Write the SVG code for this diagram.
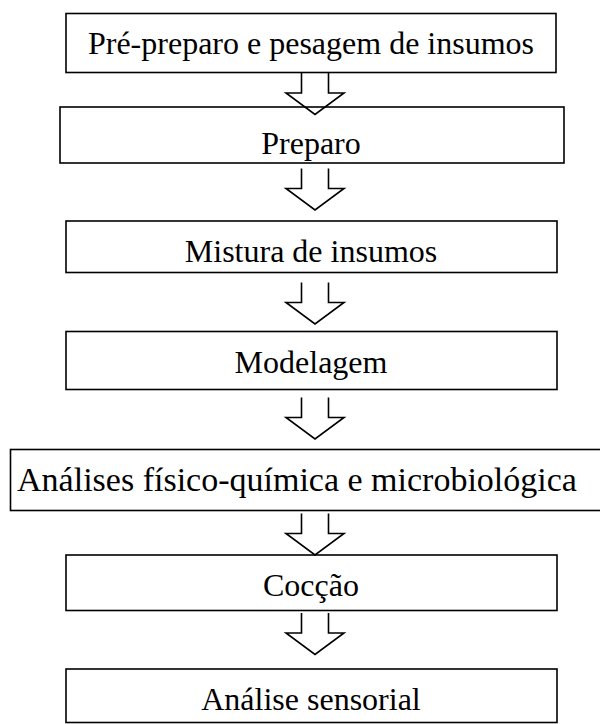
<svg xmlns="http://www.w3.org/2000/svg" width="600" height="724" viewBox="0 0 600 724">
<style>
.box{fill:none;stroke:#000;stroke-width:1.6}
.arr{fill:none;stroke:#000;stroke-width:1.6;stroke-linejoin:miter}
.t{font-family:"Liberation Serif","Times New Roman",serif;font-size:32px;fill:#000;text-anchor:middle}
</style>
<rect width="600" height="724" fill="#fff"/>
<defs>
<path id="ar" d="M-13.5,0 V20 H-29 L0,41.5 L29,20 H13.5 V0"/>
</defs>
<g id="connectors">
<use href="#ar" class="arr" transform="translate(315,73)"/>
<use href="#ar" class="arr" transform="translate(315,168.5)"/>
<use href="#ar" class="arr" transform="translate(315,282.5)"/>
<use href="#ar" class="arr" transform="translate(315,397.5)"/>
<use href="#ar" class="arr" transform="translate(315,513.5)"/>
<use href="#ar" class="arr" transform="translate(315,613)"/>
</g>
<g id="n1"><rect class="box" x="66" y="13.5" width="490" height="59"/><text class="t" x="311" y="53.5">Pré-preparo e pesagem de insumos</text></g>
<g id="n2"><rect class="box" x="60" y="107" width="504" height="56"/><text class="t" x="311" y="154">Preparo</text></g>
<g id="n3"><rect class="box" x="66" y="221" width="491" height="51.5"/><text class="t" x="311" y="261.5">Mistura de insumos</text></g>
<g id="n4"><rect class="box" x="66" y="331.5" width="491" height="58"/><text class="t" x="311" y="373">Modelagem</text></g>
<g id="n5"><rect class="box" x="10.5" y="449.5" width="600" height="61"/><text class="t" x="297" y="490.5" style="font-size:34px">Análises físico-química e microbiológica</text></g>
<g id="n6"><rect class="box" x="66" y="555" width="491" height="55.5"/><text class="t" x="311" y="596">Cocção</text></g>
<g id="n7"><rect class="box" x="66" y="669" width="491" height="53.5"/><text class="t" x="311" y="710">Análise sensorial</text></g>
</svg>
